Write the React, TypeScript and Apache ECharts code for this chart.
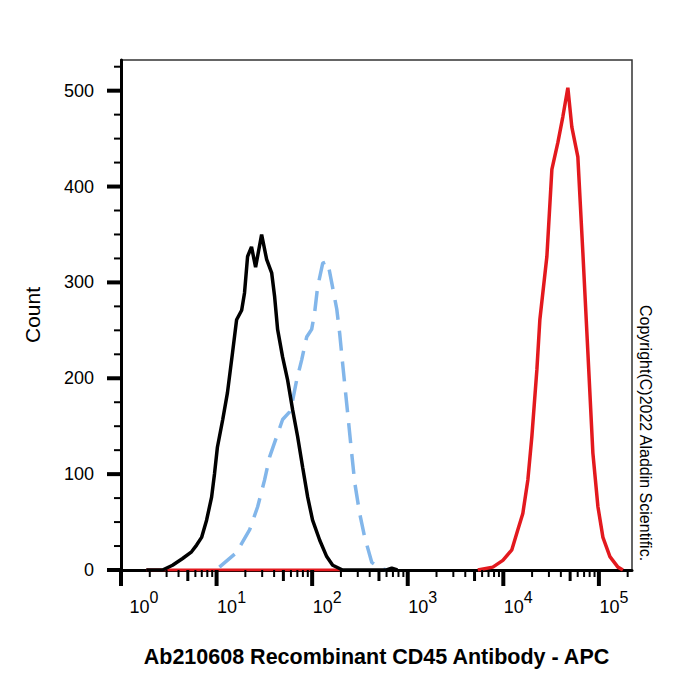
import React, { useEffect, useRef } from 'react';
import * as echarts from 'echarts';

// Isotype / unstained control (black, solid)
const blackX = [1.84, 2.72, 3.46, 4.41, 5.47, 6.18, 6.97, 7.86, 8.87, 9.53, 10.2, 11.6, 13.0, 14.7, 16.2, 18.3, 19.6, 21.1, 23.2, 25.6, 29.6, 33.4, 37.7, 40.5, 43.5, 49.1, 55.4, 62.5, 70.5, 79.6, 89.8, 101, 120, 142, 164, 208, 600, 680, 780];
const blackY = [0, 0, 5, 12, 19, 26, 34, 52, 76, 101, 128, 157, 185, 227, 261, 271, 289, 327, 337, 316, 350, 324, 310, 285, 251, 222, 198, 167, 139, 107, 76, 52, 31, 14, 5, 0, 0, 2, 0];

// Second control (light blue, dashed)
const blueX = [10.7, 16.1, 22.2, 26.9, 31.8, 35.9, 42.5, 49.1, 58.1, 62.5, 68.8, 77.6, 87.6, 98.8, 106, 114, 129, 145, 160, 181, 194, 208, 235, 259, 279, 314, 355, 420, 509, 603];
const blueY = [3, 18, 42, 66, 94, 118, 139, 157, 165, 177, 198, 219, 243, 251, 268, 295, 320, 322, 300, 272, 247, 216, 164, 122, 91, 59, 34, 8, 2, 0];

// Stained sample (red)
const redBaseX = [1.84, 208];
const redBaseY = [0, 0];
const redX = [5408, 7766, 9886, 12280, 14190, 16000, 18060, 19880, 22450, 24110, 28560, 32220, 37240, 41990, 47340, 52120, 60230, 67960, 76690, 86520, 97700, 110200, 130400, 158100, 178300];
const redY = [0, 3, 10, 21, 42, 59, 94, 139, 209, 261, 327, 418, 446, 473, 503, 462, 431, 331, 227, 122, 66, 34, 14, 3, 0];

// Axis structure
const xMin = 1;
const xMax = 222000;
const xDecades = [1, 10, 100, 1000, 10000, 100000];
const xMinorMultipliers = [2, 3, 4, 5, 6, 7, 8, 9];
const yMax = 532;
const yMajorTicks = [0, 100, 200, 300, 400, 500];
const yMinorSteps = [25, 50, 75];

const xTitle = 'Ab210608 Recombinant CD45 Antibody - APC';
const yTitle = 'Count';
const copyright = 'Copyright(C)2022 Aladdin Scientific.';

const FONT = '"Liberation Sans", Arial, Helvetica, sans-serif';

export default function App() {
  const ref = useRef<HTMLDivElement>(null);

  useEffect(() => {
    const chart = echarts.init(ref.current!, null, { renderer: 'svg' });
    const zip = (xs: number[], ys: number[]) => xs.map((x, i) => [x, ys[i]]);

    // kind: 2 = major, 1 = mid (5x), 0 = minor
    const xTickData: number[][] = [];
    xDecades.forEach((d) => {
      xTickData.push([d, 0, 2]);
      xMinorMultipliers.forEach((m) => {
        const v = d * m;
        if (v <= xMax) xTickData.push([v, 0, m === 5 ? 1 : 0]);
      });
    });

    const yTickData: number[][] = [];
    yMajorTicks.forEach((t) => {
      yTickData.push([xMin, t, 2]);
      yMinorSteps.forEach((s) => {
        if (t + s <= yMax) yTickData.push([xMin, t + s, 0]);
      });
    });

    chart.setOption({
      animation: false,
      backgroundColor: '#fff',
      grid: {
        left: 121,
        right: 68,
        top: 60,
        bottom: 130,
        show: true,
        borderColor: '#333',
        borderWidth: 1.5,
        backgroundColor: 'transparent',
      },
      xAxis: {
        type: 'log',
        logBase: 10,
        min: xMin,
        max: xMax,
        name: xTitle,
        nameLocation: 'middle',
        nameGap: 76,
        nameTextStyle: { fontFamily: FONT, fontSize: 21.5, fontWeight: 'bold', color: '#000' },
        axisLine: { show: true, onZero: false, lineStyle: { color: '#000', width: 3 } },
        axisTick: { show: false },
        minorTick: { show: false },
        splitLine: { show: false },
        axisLabel: {
          margin: 19,
          color: '#000',
          fontFamily: FONT,
          formatter: (v: number) => {
            const e = Math.log10(v);
            const r = Math.round(e);
            if (Math.abs(e - r) > 1e-6) return '';
            return (r === 0 ? '{p0|}' : '{p|}') + '{b|10}{s|' + r + '}';
          },
          rich: {
            p: { width: 30, height: 27, lineHeight: 27 },
            p0: { width: 46, height: 27, lineHeight: 27 },
            b: { fontSize: 18, fontFamily: FONT, color: '#000', verticalAlign: 'bottom', lineHeight: 18 },
            s: { fontSize: 16, fontFamily: FONT, color: '#000', verticalAlign: 'top', lineHeight: 16 },
          },
        },
      },
      yAxis: {
        type: 'value',
        min: 0,
        max: yMax,
        interval: 100,
        name: yTitle,
        nameLocation: 'middle',
        nameGap: 78,
        nameTextStyle: { fontFamily: FONT, fontSize: 21, color: '#000' },
        axisLine: { show: true, onZero: false, lineStyle: { color: '#000', width: 3 } },
        axisTick: { show: false },
        minorTick: { show: false },
        splitLine: { show: false },
        axisLabel: {
          margin: 27,
          color: '#000',
          fontSize: 18,
          fontFamily: FONT,
          formatter: (v: number) => (v % 100 === 0 ? String(v) : ''),
        },
      },
      graphic: [
        {
          type: 'text',
          x: 645,
          y: 433,
          rotation: -Math.PI / 2,
          style: {
            text: copyright,
            font: '16px ' + FONT,
            fill: '#000',
            align: 'center',
            verticalAlign: 'middle',
            textAlign: 'center',
            textVerticalAlign: 'middle',
          },
        },
      ],
      series: [
        {
          name: 'xTicks',
          type: 'custom',
          silent: true,
          clip: false,
          z: 5,
          data: xTickData,
          renderItem: (_p: any, api: any) => {
            const pt = api.coord([api.value(0), 0]);
            const k = api.value(2);
            const w = k === 2 ? 4 : k === 1 ? 3 : 2;
            const len = k === 2 ? 16 : k === 1 ? 11 : 7;
            return {
              type: 'rect',
              shape: { x: pt[0] - w / 2, y: pt[1], width: w, height: len },
              style: { fill: '#000' },
            };
          },
        },
        {
          name: 'yTicks',
          type: 'custom',
          silent: true,
          clip: false,
          z: 5,
          data: yTickData,
          renderItem: (_p: any, api: any) => {
            const pt = api.coord([api.value(0), api.value(1)]);
            const k = api.value(2);
            const w = k === 2 ? 4 : 2;
            const len = k === 2 ? 14 : 7;
            return {
              type: 'rect',
              shape: { x: pt[0] - len, y: pt[1] - w / 2, width: len, height: w },
              style: { fill: '#000' },
            };
          },
        },
        {
          name: 'redBase',
          type: 'line',
          data: zip(redBaseX, redBaseY),
          symbol: 'none',
          lineStyle: { color: '#e3191e', width: 3 },
          z: 2,
        },
        {
          name: 'red',
          type: 'line',
          data: zip(redX, redY),
          symbol: 'none',
          lineStyle: { color: '#e3191e', width: 3.5 },
          z: 2,
        },
        {
          name: 'blue',
          type: 'line',
          data: zip(blueX, blueY),
          symbol: 'none',
          lineStyle: { color: '#82b6ea', width: 3.5, type: [20, 11] },
          z: 3,
        },
        {
          name: 'black',
          type: 'line',
          data: zip(blackX, blackY),
          symbol: 'none',
          lineStyle: { color: '#000', width: 3.5 },
          z: 4,
        },
      ],
    });

    return () => chart.dispose();
  }, []);

  return (
    <div
      ref={ref}
      style={{ position: 'fixed', left: 0, top: 0, width: 700, height: 700, background: '#fff' }}
    />
  );
}
